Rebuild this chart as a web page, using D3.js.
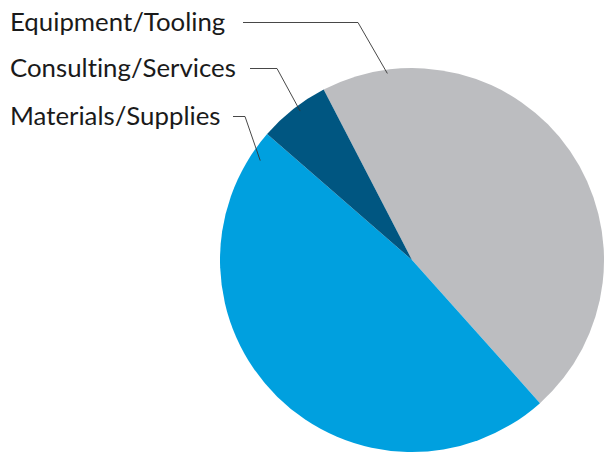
<!DOCTYPE html>
<html><head><meta charset="utf-8">
<script src="https://cdn.jsdelivr.net/npm/d3@7"></script>
<style>html,body{margin:0;padding:0;background:#fff;overflow:hidden} text{font-variant-ligatures:none;font-feature-settings:"liga" 0,"clig" 0,"dlig" 0}</style>
</head><body>
<svg id="c" width="604" height="453"></svg>
<script>
const categories = ["Equipment/Tooling", "Materials/Supplies", "Consulting/Services"];
const values = [46, 48, 6];
const colors = ["#bcbdc0", "#00a0df", "#005681"];
// label order top to bottom
const labelOrder = ["Equipment/Tooling", "Consulting/Services", "Materials/Supplies"];

const W = 604, H = 453;
const cx = 412, cy = 260, R = 192;
const startDeg = -27.4;
const svg = d3.select("#c");
const g = svg.append("g").attr("transform", `translate(${cx},${cy})`);

const data = categories.map((c, i) => ({cat: c, value: values[i], color: colors[i]}));
const pie = d3.pie().sort(null).value(d => d.value)
  .startAngle(startDeg * Math.PI / 180)
  .endAngle(startDeg * Math.PI / 180 + 2 * Math.PI);
const arcs = pie(data);
const arc = d3.arc().innerRadius(0).outerRadius(R);

g.selectAll("path").data(arcs).join("path")
  .attr("d", arc).attr("fill", d => d.data.color);

// label layout
const layout = {
  "Equipment/Tooling":   {y: 31,  lineStart: 243, elbow: 358, frac: 0.12, rr: 0.98},
  "Consulting/Services": {y: 77,  lineStart: 250, elbow: 277, frac: 0.56, rr: 0.97},
  "Materials/Supplies":  {y: 125, lineStart: 233, elbow: 245, frac: 0.955, rr: 0.945}
};
const fontSize = 25.8;
labelOrder.forEach(name => {
  const a = arcs.find(d => d.data.cat === name);
  const L = layout[name];
  const ang = a.startAngle + (a.endAngle - a.startAngle) * L.frac;
  const ex = cx + Math.sin(ang) * R * L.rr;
  const ey = cy - Math.cos(ang) * R * L.rr;
  const ly = L.y - 8.5;
  svg.append("polyline")
    .attr("points", `${L.lineStart},${ly} ${L.elbow},${ly} ${ex},${ey}`)
    .attr("fill", "none").attr("stroke", "#333").attr("stroke-width", 0.9);
  svg.append("text").attr("x", 10).attr("y", L.y)
    .attr("font-family", "Lato, 'Open Sans', sans-serif")
    .attr("font-size", fontSize).attr("fill", "#1a1a1a")
    .style("font-variant-ligatures", "none")
    .text(name);
});
</script>
</body></html>
